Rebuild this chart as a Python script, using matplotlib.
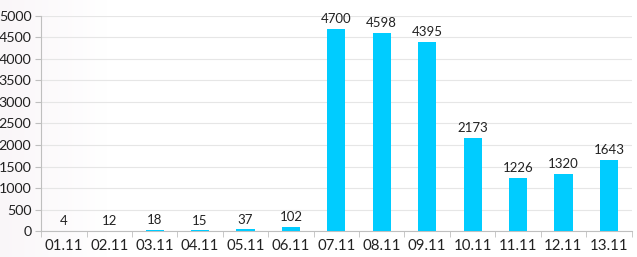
import matplotlib
matplotlib.use("Agg")
import matplotlib.pyplot as plt
import numpy as np

categories = ["01.11", "02.11", "03.11", "04.11", "05.11", "06.11", "07.11",
              "08.11", "09.11", "10.11", "11.11", "12.11", "13.11"]
values = [4, 12, 18, 15, 37, 102, 4700, 4598, 4395, 2173, 1226, 1320, 1643]
yticks = list(range(0, 5001, 500))

plt.rcParams['font.family'] = ['Lato', 'DejaVu Sans']

fig = plt.figure(figsize=(6.37, 2.57), dpi=100)
fig.patch.set_facecolor("white")

# subtle pinkish shading at the left edge of the background
bg = fig.add_axes([0, 0, 1, 1], zorder=-10)
grad = np.linspace(0, 1, 256)
alpha = np.clip(1 - grad * 6, 0, 1) * 0.5
rgba = np.zeros((1, 256, 4))
rgba[..., 0] = 0.96
rgba[..., 1] = 0.93
rgba[..., 2] = 0.95
rgba[..., 3] = alpha
bg.imshow(rgba, aspect="auto", extent=[0, 1, 0, 1])
bg.axis("off")

ax = fig.add_axes([0.0645, 0.101, 0.927, 0.837])
ax.set_facecolor("none")

x = np.arange(len(categories))
bars = ax.bar(x, values, width=0.4, color="#00CCFF", zorder=3)
for xi, v in zip(x, values):
    ax.text(xi, v + 90, str(v), ha="center", va="bottom", fontsize=9.5, color="#222222")

ax.set_xlim(-0.5, len(categories) - 0.5)
ax.set_ylim(0, 5000)
ax.set_yticks(yticks)
ax.set_yticklabels([str(t) for t in yticks], fontsize=10.3, color="#222222")
ax.set_xticks(x)
ax.set_xticklabels(categories, fontsize=10.8, color="#222222")
ax.tick_params(axis="x", length=0, pad=6)
ax.set_xticks(np.arange(-0.5, len(categories), 1), minor=True)
ax.tick_params(axis="x", which="minor", length=4, color="#bfbfbf", direction="out")
ax.tick_params(axis="y", length=4, color="#bfbfbf", direction="out", pad=3)

ax.grid(axis="y", color="#e6e6e6", linewidth=0.8, zorder=0)
for s in ["top", "right"]:
    ax.spines[s].set_visible(False)
for s in ["left", "bottom"]:
    ax.spines[s].set_color("#bfbfbf")
    ax.spines[s].set_linewidth(0.8)

fig.savefig("out.png", dpi=100)
